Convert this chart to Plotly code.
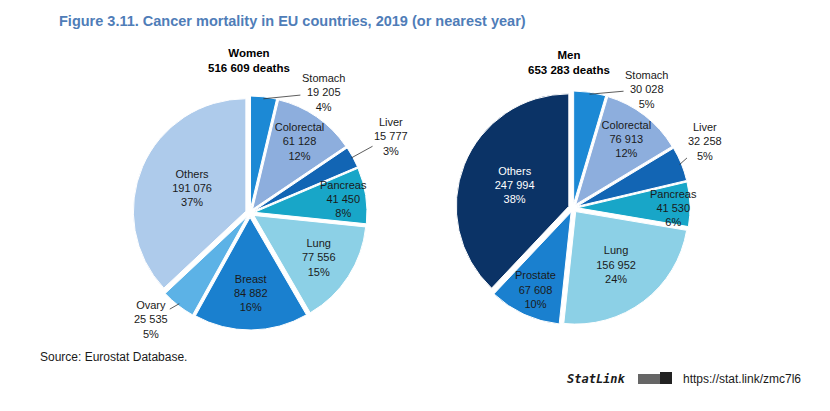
import math
import plotly.graph_objects as go

W, H = 830, 411
OFF = 8  # page body margin in the browser (px)

# ---- data ----
women_labels = ["Stomach", "Colorectal", "Liver", "Pancreas", "Lung", "Breast", "Ovary", "Others"]
women_values = [19205, 61128, 15777, 41450, 77556, 84882, 25535, 191076]
men_labels = ["Stomach", "Colorectal", "Liver", "Pancreas", "Lung", "Prostate", "Others"]
men_values = [30028, 76913, 32258, 41530, 156952, 67608, 247994]

# ---- styles ----
colors = {
    "Stomach": "#1C89D5", "Colorectal": "#8DAEDD", "Liver": "#1265B4", "Pancreas": "#18A6C8",
    "Lung": "#8CD0E6", "Breast": "#1A80CF", "Ovary": "#5CB2E6", "Prostate": "#1A80CF",
}
women_others_color = "#AECBEB"
men_others_color = "#0B3366"
outside = {"Stomach", "Liver", "Ovary"}
# pixel offsets of outside labels from their slice edge
offsets_w = {"Stomach": (60, -6), "Liver": (40, -22), "Ovary": (-28, 16)}
offsets_m = {"Stomach": (57, -5), "Liver": (26, -23)}

FONT = "Liberation Sans, Arial, sans-serif"
FS = 11
PULL = 0.04
R_OUT = 117  # px, outer edge incl. pull


def px2x(px):
    return (px - OFF) / W


def px2y(py):
    return 1 - (py - OFF) / H


def fmt(n):
    return f"{n:,}".replace(",", " ")


fig = go.Figure()
annotations = []


def add_pie(labels, values, others_color, cx_px, cy_px, offsets, header, header_x, header_y):
    total = sum(values)
    cols = [others_color if l == "Others" else colors[l] for l in labels]
    tcols = ["white" if c == men_others_color else "#1a1a1a" for c in cols]
    tmpl = ["" if l in outside else "%{label}<br>%{value:,}<br>%{percent:.0%}" for l in labels]
    cx, cy = px2x(cx_px), px2y(cy_px)
    hw, hh = R_OUT / W, R_OUT / H
    fig.add_trace(go.Pie(
        labels=labels, values=values, sort=False, direction="clockwise", rotation=0,
        pull=PULL, marker=dict(colors=cols, line=dict(color="white", width=1)),
        texttemplate=tmpl, textposition="inside", insidetextorientation="horizontal",
        textfont=dict(family=FONT, size=FS, color=tcols),
        domain=dict(x=[cx - hw, cx + hw], y=[cy - hh, cy + hh]),
        showlegend=False, hoverinfo="label+value+percent",
    ))
    cum = 0
    for l, v in zip(labels, values):
        mid = 2 * math.pi * (cum + v / 2) / total
        cum += v
        if l in outside:
            r = R_OUT - 2
            px = cx_px + r * math.sin(mid)
            py = cy_px - r * math.cos(mid)
            ax, ay = offsets[l]
            annotations.append(dict(
                x=px2x(px), y=px2y(py), xref="paper", yref="paper",
                text=f"{l}<br>{fmt(v)}<br>{round(100 * v / total)}%",
                showarrow=True, arrowhead=0, arrowwidth=0.8, arrowcolor="#333333",
                ax=ax, ay=ay, standoff=0,
                font=dict(family=FONT, size=FS, color="#1a1a1a"), align="center",
            ))
    annotations.append(dict(
        x=px2x(header_x), y=px2y(header_y), xref="paper", yref="paper",
        xanchor="center", yanchor="middle",
        text=f"<b>{header}</b><br><b>{fmt(total)} deaths</b>", showarrow=False,
        font=dict(family=FONT, size=11.5, color="#000000"), align="center",
    ))


add_pie(women_labels, women_values, women_others_color, 250, 213, offsets_w, "Women", 249, 60)
add_pie(men_labels, men_values, men_others_color, 573, 208, offsets_m, "Men", 569, 63)

annotations.append(dict(
    x=px2x(57), y=px2y(21), xref="paper", yref="paper", xanchor="left", yanchor="middle",
    text="<b>Figure 3.11. Cancer mortality in EU countries, 2019 (or nearest year)</b>",
    showarrow=False, font=dict(family=FONT, size=14.5, color="#4F7DB8"),
))
annotations.append(dict(
    x=px2x(38), y=px2y(357), xref="paper", yref="paper", xanchor="left", yanchor="middle",
    text="Source: Eurostat Database.", showarrow=False,
    font=dict(family=FONT, size=12, color="#1a1a1a"),
))
annotations.append(dict(
    x=px2x(628), y=px2y(379), xref="paper", yref="paper", xanchor="right", yanchor="middle",
    text="<b><i>StatLink</i></b>", showarrow=False,
    font=dict(family="DejaVu Sans Mono, monospace", size=12, color="#1a1a1a"),
))
annotations.append(dict(
    x=px2x(681), y=px2y(379), xref="paper", yref="paper", xanchor="left", yanchor="middle",
    text="https://stat.link/zmc7l6", showarrow=False,
    font=dict(family=FONT, size=12, color="#1a1a1a"),
))

fig.update_layout(
    width=W, height=H, margin=dict(l=0, r=0, t=0, b=0),
    paper_bgcolor="white", plot_bgcolor="white",
    separators=". ", annotations=annotations,
    uniformtext=dict(minsize=FS, mode="show"),
)
# small StatLink logo
fig.add_shape(type="rect", xref="paper", yref="paper",
              x0=px2x(638), x1=px2x(672), y0=px2y(384), y1=px2y(374),
              fillcolor="#666666", line=dict(width=0))
fig.add_shape(type="rect", xref="paper", yref="paper",
              x0=px2x(660), x1=px2x(672), y0=px2y(384), y1=px2y(372),
              fillcolor="#222222", line=dict(width=0))

fig.write_html("out.html")
